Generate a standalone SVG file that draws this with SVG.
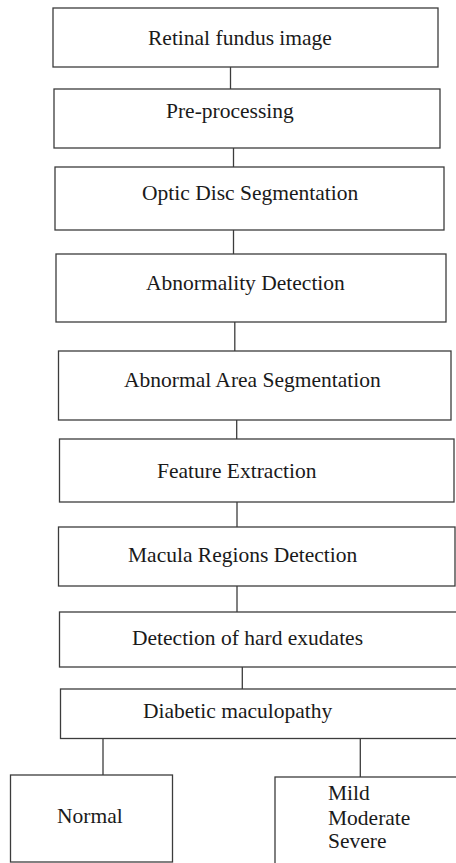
<svg xmlns="http://www.w3.org/2000/svg" width="456" height="863" viewBox="0 0 456 863">
<style>
.box{fill:#fff;stroke:#3c3c3c;stroke-width:1.3}
.lbl{font-family:"Liberation Serif","Times New Roman",serif;font-size:21.5px;fill:#1a1a1a}
.con{stroke:#3c3c3c;stroke-width:1.3;fill:none}
</style>
<rect width="456" height="863" fill="#fff"/>
<g id="connectors">
<line class="con" x1="230.5" y1="67" x2="230.5" y2="89"/>
<line class="con" x1="233.5" y1="148" x2="233.5" y2="167"/>
<line class="con" x1="233.5" y1="230" x2="233.5" y2="254"/>
<line class="con" x1="234.8" y1="322" x2="234.8" y2="351"/>
<line class="con" x1="236.7" y1="420" x2="236.7" y2="439"/>
<line class="con" x1="237" y1="502" x2="237" y2="527"/>
<line class="con" x1="237" y1="586" x2="237" y2="612"/>
<line class="con" x1="242.3" y1="667" x2="242.3" y2="689"/>
<line class="con" x1="103" y1="737" x2="103" y2="775"/>
<line class="con" x1="360.3" y1="739" x2="360.3" y2="777"/>
</g>
<g id="n1"><rect class="box" x="53" y="8" width="385" height="59"/><text class="lbl" x="148" y="44.5">Retinal fundus image</text></g>
<g id="n2"><rect class="box" x="54" y="89" width="386" height="59"/><text class="lbl" x="166" y="118">Pre-processing</text></g>
<g id="n3"><rect class="box" x="55" y="167" width="389" height="63"/><text class="lbl" x="142" y="200">Optic Disc Segmentation</text></g>
<g id="n4"><rect class="box" x="56" y="254" width="390" height="68"/><text class="lbl" x="146" y="290">Abnormality Detection</text></g>
<g id="n5"><rect class="box" x="58.5" y="351" width="392.5" height="69"/><text class="lbl" x="124" y="387">Abnormal Area Segmentation</text></g>
<g id="n6"><rect class="box" x="59.5" y="439" width="394.5" height="63"/><text class="lbl" x="157" y="478">Feature Extraction</text></g>
<g id="n7"><rect class="box" x="58.5" y="527" width="396.5" height="59"/><text class="lbl" x="128" y="562">Macula Regions Detection</text></g>
<g id="n8"><rect class="box" x="59.5" y="612" width="400" height="55"/><text class="lbl" x="132" y="645">Detection of hard exudates</text></g>
<g id="n9"><rect class="box" x="60.5" y="689" width="400" height="49.5"/><text class="lbl" x="143" y="718">Diabetic maculopathy</text></g>
<g id="n10"><rect class="box" x="10.5" y="775" width="162" height="87"/><text class="lbl" x="57" y="823">Normal</text></g>
<g id="n11"><rect class="box" x="275" y="777" width="190" height="100"/><text class="lbl" x="328" y="800">Mild</text><text class="lbl" x="328" y="824.5">Moderate</text><text class="lbl" x="328" y="848">Severe</text></g>
</svg>
